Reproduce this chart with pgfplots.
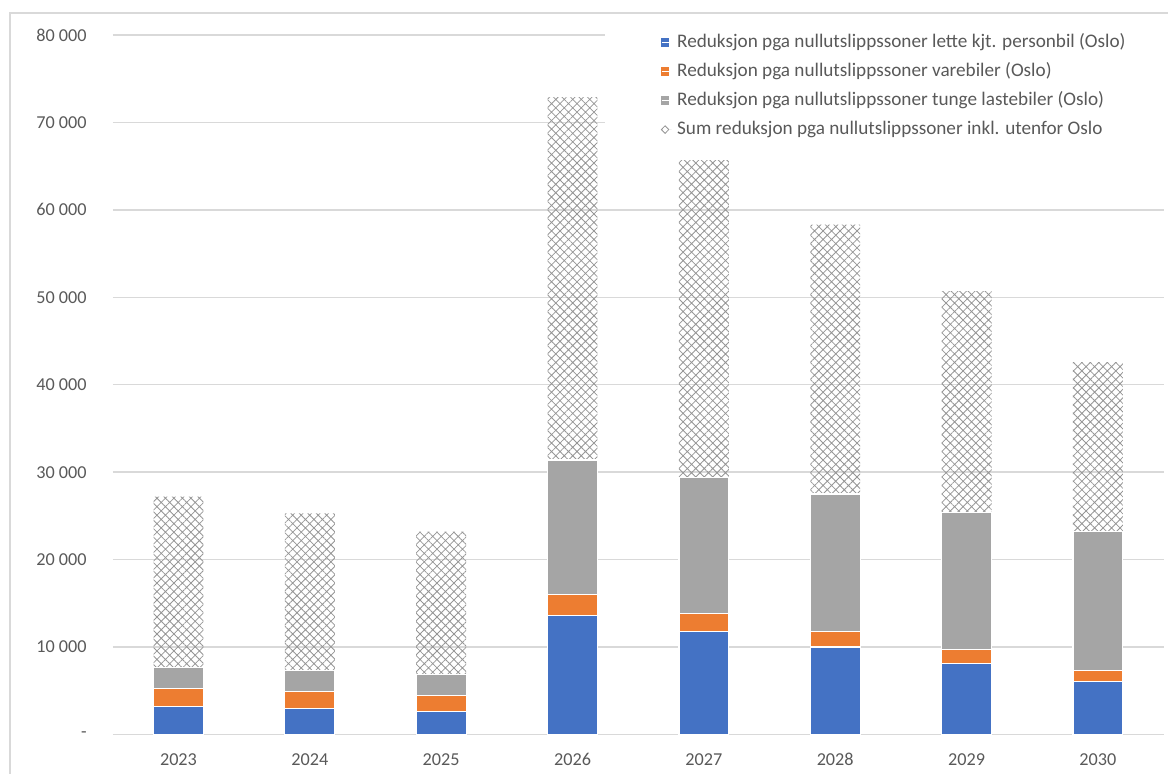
\documentclass[border=0pt]{standalone}
\usepackage{fontspec}
\setmainfont{Carlito}
\usepackage{pgfplots}
\pgfplotsset{compat=1.18}
\usetikzlibrary{patterns.meta}
\definecolor{cblue}{HTML}{4472C4}
\definecolor{corange}{HTML}{ED7D31}
\definecolor{cgray}{HTML}{A5A5A5}
\definecolor{cgrid}{HTML}{D9D9D9}
\definecolor{ctext}{HTML}{595959}
\definecolor{cpat}{HTML}{959595}
\begin{document}
\begin{tikzpicture}
\path[use as bounding box] (0,0) rectangle (584pt,387pt);
\draw[cgrid, line width=0.7pt] (5pt,-5pt) -- (5pt,380.5pt) -- (600pt,380.5pt);
\begin{axis}[
  at={(56.4pt,19.75pt)}, anchor=south west,
  scale only axis, width=525.4pt, height=349.75pt,
  ybar stacked, bar width=0.38,
  xmin=-0.5, xmax=7.5, ymin=0, ymax=80000,
  scaled y ticks=false,
  xtick={0,1,2,3,4,5,6,7},
  xticklabels={2023,2024,2025,2026,2027,2028,2029,2030},
  ytick={0,10000,20000,30000,40000,50000,60000,70000,80000},
  yticklabels={-,10 000,20 000,30 000,40 000,50 000,60 000,70 000,80 000},
  axis line style={draw=none}, major tick length=0pt,
  ymajorgrids, grid style={cgrid, line width=0.7pt},
  tick label style={font=\fontsize{9.1}{11}\selectfont, text=ctext},
  xticklabel style={anchor=center, inner sep=0pt, yshift=-12.5pt},
  yticklabel style={anchor=east, inner sep=0pt, xshift=-12.9pt},
  legend cell align=left,
  legend style={at={(0.468,1.0143)}, anchor=north west, draw=none, fill=white,
    inner xsep=28pt, inner ysep=4pt, row sep=5.3pt,
    font=\fontsize{9.6}{11.5}\selectfont, text=ctext,
    nodes={inner sep=0pt, text height=7pt, text depth=2.2pt}},
]
\addplot[fill=cblue, draw=white, line width=0.6pt,
  legend image code/.code={\fill[cblue] (0pt,-1.75pt) rectangle (3.5pt,1.75pt); \path (0pt,0pt) -- (7.5pt,0pt);}]
  coordinates {(0,3200) (1,3000) (2,2600) (3,13600) (4,11800) (5,10000) (6,8100) (7,6100)};
\addlegendentry{Reduksjon pga nullutslippssoner lette kjt. personbil (Oslo)}
\addplot[fill=corange, draw=white, line width=0.6pt,
  legend image code/.code={\fill[corange] (0pt,-1.75pt) rectangle (3.5pt,1.75pt); \path (0pt,0pt) -- (7.5pt,0pt);}]
  coordinates {(0,2100) (1,1900) (2,1900) (3,2400) (4,2000) (5,1800) (6,1600) (7,1200)};
\addlegendentry{Reduksjon pga nullutslippssoner varebiler (Oslo)}
\addplot[fill=cgray, draw=white, line width=0.6pt,
  legend image code/.code={\fill[cgray] (0pt,-1.75pt) rectangle (3.5pt,1.75pt); \path (0pt,0pt) -- (7.5pt,0pt);}]
  coordinates {(0,2400) (1,2400) (2,2400) (3,15400) (4,15600) (5,15700) (6,15700) (7,15900)};
\addlegendentry{Reduksjon pga nullutslippssoner tunge lastebiler (Oslo)}
\addplot[draw=none, pattern={Hatch[angle=45,distance=3pt,line width=0.4pt]}, pattern color=cpat,
  legend image code/.code={\draw[cpat, fill=white, line width=0.4pt] (1.75pt,-1.9pt) -- (3.6pt,0pt) -- (1.75pt,1.9pt) -- (-0.1pt,0pt) -- cycle; \path (0pt,0pt) -- (7.5pt,0pt);}]
  coordinates {(0,19500) (1,18000) (2,16300) (3,41500) (4,36300) (5,30800) (6,25300) (7,19400)};
\addlegendentry{Sum reduksjon pga nullutslippssoner inkl. utenfor Oslo}
\end{axis}
\end{tikzpicture}
\end{document}
